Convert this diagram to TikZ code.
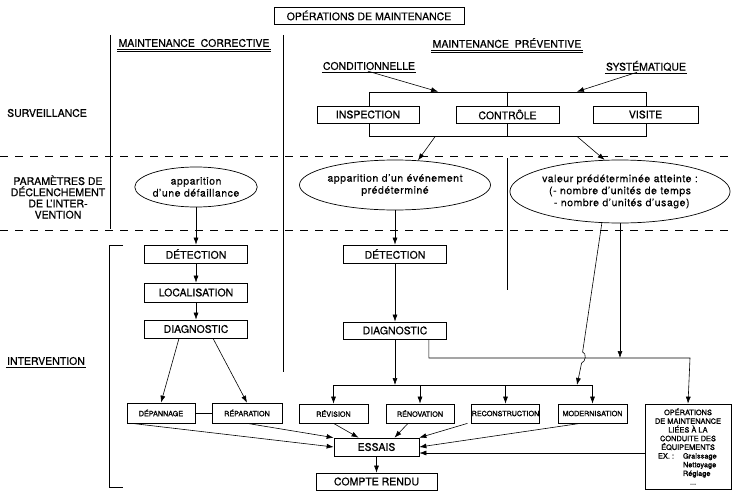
\documentclass[tikz,border=0pt]{standalone}
\usepackage{fontspec}
\setmainfont{TeX Gyre Heros}[FakeBold=0.6]
\newfontfamily\ellfont{TeX Gyre Heros}[LetterSpace=5,FakeBold=0.3]
\newfontfamily\smallfont{TeX Gyre Heros}[FakeBold=1.2]
\usetikzlibrary{arrows.meta,shapes.geometric,calc}

\tikzset{
  box/.style={draw, fill=white, line width=0.7pt, inner sep=0pt, font=\fontsize{10.5}{12}\selectfont},
  smallbox/.style={box, minimum height=19pt, font=\smallfont\fontsize{7.2}{8}\selectfont},
  event/.style={ellipse, draw, line width=0.7pt, inner sep=0pt, align=center, font=\ellfont\fontsize{10.5}{12}\selectfont},
  head/.style={inner sep=1pt, font=\fontsize{10.5}{12}\selectfont},
  rowlabel/.style={inner sep=1pt, align=center, font=\fontsize{10.5}{11.2}\selectfont},
  arr/.style={line width=0.6pt, -{Latex[length=7pt,width=5pt]}},
  sep/.style={line width=0.6pt, dash pattern=on 8pt off 7pt}
}

\begin{document}
\begin{tikzpicture}[x=1pt,y=-1pt]
	\useasboundingbox (0,0) rectangle (738,503);

	% Separators
	\draw[sep] (0,156) -- (732,156);
	\draw[sep] (0,230) -- (732,230);
	\draw[line width=0.6pt] (110,35) -- (110,229);
	\draw[line width=0.6pt] (283,35) -- (283,372);
	\draw[line width=0.6pt] (507.5,158) -- (507.5,290);
	\draw[line width=0.6pt] (123,245) -- (109,245) -- (109,487) -- (123,487);

	% Headings and row labels
	\node[box, minimum width=190pt, minimum height=17pt] (title) at (369,15.5) {OPÉRATIONS DE MAINTENANCE};
	\node[head] (corr) at (194,43) {MAINTENANCE\ \ CORRECTIVE};
	\node[head] (prev) at (507,43) {MAINTENANCE\ \ PRÉVENTIVE};
	\node[head] (cond) at (369,66) {CONDITIONNELLE};
	\node[head] (sys) at (646,66) {SYSTÉMATIQUE};
	\node[rowlabel] (surv) at (47,113) {SURVEILLANCE};
	\node[rowlabel] (param) at (58,197) {PARAMÈTRES DE\\DÉCLENCHEMENT\\DE L’INTER-\\VENTION};
	\node[rowlabel] (interv) at (46,361) {INTERVENTION};
	\draw[line width=0.8pt] ([yshift=-1pt]corr.south west) -- ([yshift=-1pt]corr.south east);
	\draw[line width=0.4pt] ([yshift=-3pt]corr.south west) -- ([yshift=-3pt]corr.south east);
	\draw[line width=0.8pt] ([yshift=-1pt]prev.south west) -- ([yshift=-1pt]prev.south east);
	\draw[line width=0.4pt] ([yshift=-3pt]prev.south west) -- ([yshift=-3pt]prev.south east);
	\draw[line width=0.7pt] ([yshift=-1pt]cond.south west) -- ([yshift=-1pt]cond.south east);
	\draw[line width=0.7pt] ([yshift=-1pt]sys.south west) -- ([yshift=-1pt]sys.south east);
	\draw[line width=0.7pt] ([yshift=-1pt]interv.south west) -- ([yshift=-1pt]interv.south east);

	% Surveillance
	\node[draw, line width=0.7pt, minimum width=277pt, minimum height=44pt, inner sep=0pt] (frame) at (507.5,114) {};
	\draw[line width=0.7pt] (frame.north) -- (frame.south);
	\node[box, minimum width=102pt, minimum height=17pt] (insp) at (368,114.5) {INSPECTION};
	\node[box, minimum width=103pt, minimum height=17pt] (ctrl) at (507.5,114.5) {CONTRÔLE};
	\node[box, minimum width=105pt, minimum height=17pt] (vis) at (645.5,114.5) {VISITE};

	% Triggers
	\node[event, minimum width=120pt, minimum height=40pt] (fail) at (196,187) {apparition\\d’une défaillance};
	\node[event, minimum width=155pt, minimum height=50pt] (ev) at (395,185) {apparition d’un événement\\prédéterminé};
	\node[event, minimum width=190pt, minimum height=63pt] (val) at (620,191.5) {valeur prédéterminée atteinte :\\(- nombre d’unités de temps\\\ - nombre d’unités d’usage)};

	% Intervention
	\node[box, minimum width=103pt, minimum height=18pt] (det1) at (196,254) {DÉTECTION};
	\node[box, minimum width=103pt, minimum height=19pt] (loc) at (196,292.5) {LOCALISATION};
	\node[box, minimum width=103pt, minimum height=18pt] (diag1) at (196,329) {DIAGNOSTIC};
	\node[box, minimum width=103pt, minimum height=18pt] (det2) at (395,254) {DÉTECTION};
	\node[box, minimum width=103pt, minimum height=17pt] (diag2) at (395,330.5) {DIAGNOSTIC};
	\node[smallbox, minimum width=68pt, minimum height=20pt] (dep) at (161,413) {DÉPANNAGE};
	\node[smallbox, minimum width=70pt, minimum height=20pt] (rep) at (247,413) {RÉPARATION};
	\node[smallbox, minimum width=69pt] (rev) at (333.5,413.5) {RÉVISION};
	\node[smallbox, minimum width=68pt] (ren) at (420,413.5) {RÉNOVATION};
	\node[smallbox, minimum width=67pt] (rec) at (505.5,413.5) {RECONSTRUCTION};
	\node[smallbox, minimum width=69pt] (mod) at (592.5,413.5) {MODERNISATION};
	\node[box, minimum width=86pt, minimum height=85pt, align=center, font=\smallfont\fontsize{7.4}{8.7}\selectfont] (ops) at (688,446.5)
		{OPÉRATIONS\\DE MAINTENANCE\\LIÉES À LA\\CONDUITE DES\\ÉQUIPEMENTS\\\makebox[60pt][l]{\makebox[25pt][l]{EX. :}Graissage}\\\makebox[60pt][l]{\hspace*{25pt}Nettoyage}\\\makebox[60pt][l]{\hspace*{25pt}Réglage}\\\hspace*{10pt}...};
	\node[box, minimum width=85pt, minimum height=18pt] (ess) at (376.5,447) {ESSAIS};
	\node[box, minimum width=121pt, minimum height=17pt] (cr) at (376.5,481.5) {COMPTE RENDU};

	% Helper points
	\coordinate (bend) at (690,358);
	\coordinate (bus) at (395,385);
	\coordinate (hook) at (577,385);
	\coordinate (ess3) at ([yshift=-6pt]ess.east);

	% Draw edges
	\draw[arr] ([xshift=-1pt]cond.south) -- ($(frame.north west)!0.25!(frame.north east)$);
	\draw[arr] ([xshift=-9pt]sys.south) -- ($(frame.north west)!0.75!(frame.north east)$);
	\draw[arr] ($(frame.south west)!0.24!(frame.south east)$) -- (ev.47);
	\draw[arr] ($(frame.south west)!0.75!(frame.south east)$) -- (val.116);

	\draw[arr] (fail.south) -- (det1.north);
	\draw[arr] (det1) -- (loc);
	\draw[arr] (loc) -- (diag1);
	\draw[arr] ([xshift=-17pt]diag1.south) -- (dep.north);
	\draw[arr] ([xshift=17pt]diag1.south) -- (rep.north);
	\draw[line width=0.6pt] (dep) -- (rep);

	\draw[arr] (ev.south) -- (det2.north);
	\draw[arr] (det2) -- (diag2);
	\draw[arr] (diag2.south) -- (bus);
	\draw[line width=0.6pt] (rev.north |- bus) -- (mod.north |- bus);
	\draw[arr] (rev.north |- bus) -- (rev.north);
	\draw[arr] (ren.north |- bus) -- (ren.north);
	\draw[arr] (rec.north |- bus) -- (rec.north);
	\draw[arr] (mod.north |- bus) -- (mod.north);
	\draw[arr] ([xshift=-18pt]diag2.south east) |- (bend) -- (ops.north);
	\draw[arr] (val.south) -- (val.south |- bend);
	\draw[arr] (val.240) -- (582.6,352) to[out=-15,in=15] (581.6,363) -- (hook);

	\draw[arr] ([xshift=5pt]dep.south west) -- (ess.west);
	\draw[arr] (rep.south) -- (ess.north west);
	\draw[arr] (rev.south) -- ([xshift=-18pt]ess.north);
	\draw[arr] ([xshift=-12pt]ren.south) -- ([xshift=18pt]ess.north);
	\draw[arr] ([xshift=-38pt]rec.south) -- (ess.north east);
	\draw[arr] ([xshift=-12pt]mod.south) -- (ess.east);
	\draw[arr] (ops.west |- ess3) -- (ess3);
	\draw[arr] (ess) -- (cr);
\end{tikzpicture}
\end{document}
